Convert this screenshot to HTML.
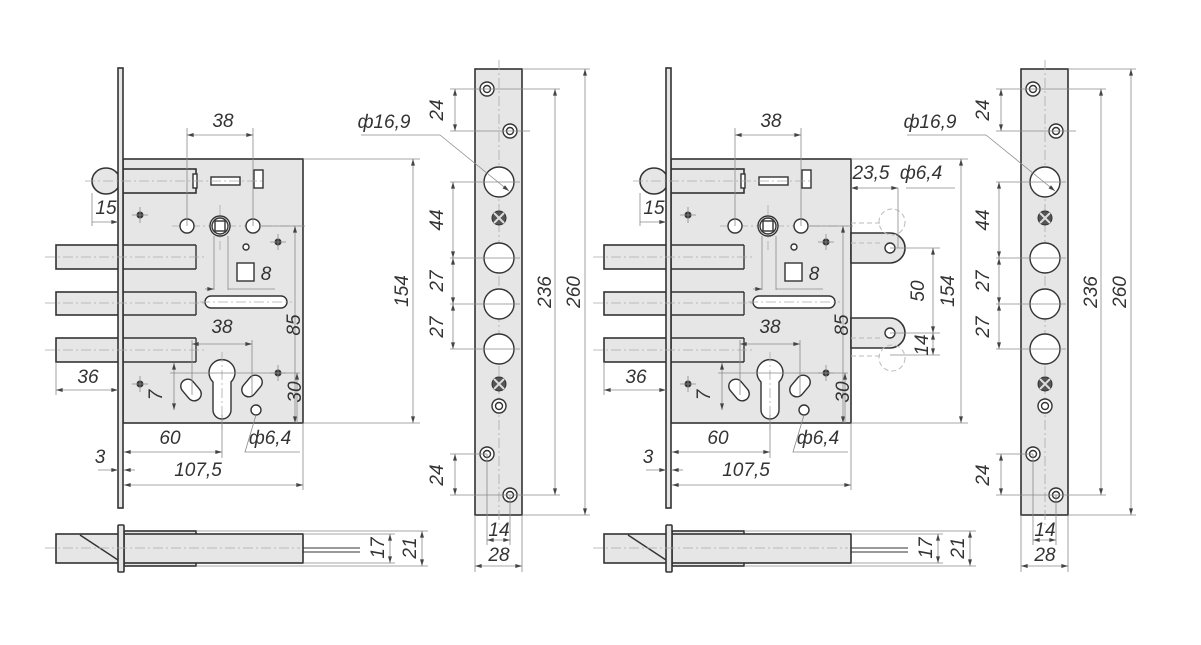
<!DOCTYPE html>
<html><head><meta charset="utf-8"><style>
html,body{margin:0;padding:0;background:#fff;}
svg{display:block}
text{font-family:"Liberation Sans",sans-serif;font-style:italic;font-size:19px;fill:#333;text-anchor:middle}
.o{fill:#e6e6e6;stroke:#333;stroke-width:1.6}
.w{fill:#fff;stroke:#333;stroke-width:1.4}
.n{fill:none;stroke:#333;stroke-width:1.4}
.d{fill:none;stroke:#8a8a8a;stroke-width:0.8}
.c{fill:none;stroke:#aaa;stroke-width:0.8;stroke-dasharray:10 3 2 3}
.h{fill:none;stroke:#bbb;stroke-width:1;stroke-dasharray:5 3}
</style></head><body>
<svg width="1201" height="645" viewBox="0 0 1201 645" xmlns="http://www.w3.org/2000/svg">
<defs>
<marker id="a" viewBox="0 0 10 6" refX="10" refY="3" markerWidth="9" markerHeight="5" orient="auto-start-reverse"><path d="M0,0 L10,3 L0,6 z" fill="#444"/></marker>
<g id="lock">
  <rect class="o" x="56" y="245" width="140" height="24"/>
  <rect class="o" x="56" y="292" width="140" height="23"/>
  <rect class="o" x="56" y="338" width="140" height="24"/>
  <rect class="o" x="123" y="159" width="180" height="264"/>
  <ellipse class="o" cx="106" cy="181" rx="14" ry="13"/>
  <rect class="o" x="123" y="169" width="73" height="24"/>
  <rect class="w" x="193" y="174" width="4" height="14"/>
  <rect class="w" x="211" y="177" width="29" height="8"/>
  <rect class="w" x="254" y="170" width="9" height="18"/>
  <rect class="o" x="118" y="68" width="5" height="440"/>
  <line class="n" x1="123" y1="245" x2="196" y2="245"/><line class="n" x1="196" y1="245" x2="196" y2="269"/><line class="n" x1="123" y1="269" x2="196" y2="269"/>
  <line class="n" x1="123" y1="292" x2="196" y2="292"/><line class="n" x1="196" y1="292" x2="196" y2="315"/><line class="n" x1="123" y1="315" x2="196" y2="315"/>
  <line class="n" x1="123" y1="338" x2="196" y2="338"/><line class="n" x1="196" y1="338" x2="196" y2="362"/><line class="n" x1="123" y1="362" x2="196" y2="362"/>
  <line class="c" x1="45" y1="257" x2="205" y2="257"/>
  <line class="c" x1="45" y1="303" x2="205" y2="303"/>
  <line class="c" x1="45" y1="350" x2="205" y2="350"/>
  <line class="c" x1="85" y1="181" x2="265" y2="181"/>
  <line class="c" x1="172" y1="226" x2="300" y2="226"/>
  <line class="c" x1="220" y1="205" x2="220" y2="250"/>
  <circle class="w" cx="187" cy="226" r="7"/>
  <circle class="w" cx="253" cy="226" r="7"/>
  <circle class="w" cx="220" cy="226" r="10"/>
  <circle class="n" cx="220" cy="226" r="8"/>
  <rect class="w" x="215" y="221" width="10" height="10"/>
  <circle class="w" cx="246" cy="247" r="3"/>
  <circle cx="140" cy="215" r="3.5" fill="#333"/>
  <circle cx="278" cy="242" r="3.5" fill="#333"/>
  <circle cx="278" cy="373" r="3.5" fill="#333"/>
  <circle cx="140" cy="384" r="3.5" fill="#333"/>
  <path class="d" d="M132 215h16M140 207v16M270 242h16M278 234v16M270 373h16M278 365v16M132 384h16M140 376v16"/>
  <rect class="w" x="237" y="263" width="17" height="18"/>
  <rect class="w" x="205" y="296" width="82" height="12" rx="6"/>
  <line class="c" x1="200" y1="302" x2="292" y2="302"/>
  <path class="w" d="M213,382 A13,13 0 1 1 231,382 L231,410 A9,9 0 0 1 213,410 Z"/>
  <line class="c" x1="222" y1="352" x2="222" y2="430"/>
  <rect class="w" x="184" y="378" width="14" height="24" rx="7" transform="rotate(-40 191 390)"/>
  <rect class="w" x="245" y="374" width="14" height="24" rx="7" transform="rotate(40 252 386)"/>
  <circle class="w" cx="256" cy="410" r="5"/>
  <path class="d" d="M187 128V226M253 128V226"/><line class="d" x1="187" y1="135" x2="253" y2="135" marker-start="url(#a)" marker-end="url(#a)"/>
  <path class="d" d="M92 193V226"/><line class="d" x1="92" y1="222" x2="118" y2="222" marker-end="url(#a)"/>
  <path class="d" d="M214 236V290M228 236V290"/><line class="d" x1="205" y1="289" x2="214" y2="289" marker-end="url(#a)"/><line class="d" x1="228" y1="289" x2="275" y2="289"/>
  <path class="d" d="M192 340V395M252 340V395"/><line class="d" x1="192" y1="344" x2="252" y2="344" marker-start="url(#a)" marker-end="url(#a)"/>
  <line class="d" x1="174" y1="363" x2="174" y2="410" marker-start="url(#a)" marker-end="url(#a)"/>
  <path class="d" d="M170 373H300M260 226H305"/>
  <line class="d" x1="295" y1="226" x2="295" y2="423" marker-start="url(#a)" marker-end="url(#a)"/>
  <line class="d" x1="297" y1="373" x2="297" y2="423" marker-start="url(#a)"/>
  <path class="d" d="M56 362V395"/><line class="d" x1="56" y1="390" x2="118" y2="390" marker-start="url(#a)" marker-end="url(#a)"/>
  <path class="d" d="M222 415V458"/><line class="d" x1="124" y1="452" x2="222" y2="452" marker-start="url(#a)" marker-end="url(#a)"/>
  <path class="d" d="M303 423V490"/><line class="d" x1="124" y1="485" x2="303" y2="485" marker-start="url(#a)" marker-end="url(#a)"/>
  <line class="d" x1="98" y1="470" x2="118" y2="470" marker-end="url(#a)"/><line class="d" x1="135" y1="470" x2="124" y2="470" marker-end="url(#a)"/>
  <path class="d" d="M256 415L245 452H300"/>
  <path class="d" d="M303 159H420M303 423H420"/>
  <line class="d" x1="413" y1="159" x2="413" y2="423" marker-start="url(#a)" marker-end="url(#a)"/>
  <rect class="o" x="56" y="534" width="64" height="29"/>
  <line class="n" x1="80" y1="535" x2="118" y2="560"/>
  <rect class="o" x="124" y="531" width="72" height="35"/>
  <rect class="o" x="124" y="534" width="179" height="29"/>
  <rect class="o" x="118" y="525" width="6" height="47" rx="1"/>
  <path class="n" d="M303 548H360M303 552H360" style="stroke-width:1"/>
  <line class="c" x1="45" y1="548" x2="300" y2="548"/>
  <path class="d" d="M303 534H395M303 563H395M196 531H428M196 566H428"/>
  <line class="d" x1="390" y1="534" x2="390" y2="563" marker-start="url(#a)" marker-end="url(#a)"/>
  <line class="d" x1="422" y1="531" x2="422" y2="566" marker-start="url(#a)" marker-end="url(#a)"/>
</g>
<g id="strip">
  <rect class="o" x="475" y="69" width="47" height="446"/>
  <line class="c" x1="499" y1="60" x2="499" y2="525"/>
  <g class="w"><circle cx="487" cy="89" r="7"/><circle cx="510" cy="131" r="7"/><circle cx="487" cy="454" r="7"/><circle cx="510" cy="495" r="7"/><circle cx="499" cy="406" r="7"/></g>
  <g class="n"><circle cx="487" cy="89" r="3.5"/><circle cx="510" cy="131" r="3.5"/><circle cx="487" cy="454" r="3.5"/><circle cx="510" cy="495" r="3.5"/><circle cx="499" cy="406" r="3.5"/></g>
  <g class="w"><circle cx="499" cy="182" r="15"/><circle cx="499" cy="258" r="15"/><circle cx="499" cy="304" r="15"/><circle cx="499" cy="349" r="15"/></g>
  <circle cx="499" cy="218" r="7" fill="#555" stroke="#333"/><path d="M494 213l10 10M504 213l-10 10" stroke="#ddd" stroke-width="2"/>
  <circle cx="499" cy="384" r="7" fill="#555" stroke="#333"/><path d="M494 379l10 10M504 379l-10 10" stroke="#ddd" stroke-width="2"/>
  <path class="d" d="M450 89H487M450 131H530M450 182H520M450 258H520M450 304H520M450 349H520M450 454H487M450 495H510"/>
  <line class="d" x1="455" y1="89" x2="455" y2="131" marker-start="url(#a)" marker-end="url(#a)"/>
  <line class="d" x1="453" y1="182" x2="453" y2="258" marker-start="url(#a)" marker-end="url(#a)"/>
  <line class="d" x1="453" y1="258" x2="453" y2="304" marker-start="url(#a)" marker-end="url(#a)"/>
  <line class="d" x1="453" y1="304" x2="453" y2="349" marker-start="url(#a)" marker-end="url(#a)"/>
  <line class="d" x1="455" y1="454" x2="455" y2="495" marker-start="url(#a)" marker-end="url(#a)"/>
  <path class="d" d="M487 89H560M510 495H560M522 69H590M522 515H590"/>
  <line class="d" x1="555" y1="89" x2="555" y2="495" marker-start="url(#a)" marker-end="url(#a)"/>
  <line class="d" x1="585" y1="69" x2="585" y2="515" marker-start="url(#a)" marker-end="url(#a)"/>
  <path class="d" d="M475 515V572M522 515V572M487 454V545M510 495V545"/>
  <line class="d" x1="487" y1="540" x2="510" y2="540" marker-start="url(#a)" marker-end="url(#a)"/>
  <line class="d" x1="475" y1="566" x2="522" y2="566" marker-start="url(#a)" marker-end="url(#a)"/>
  <line class="d" x1="361" y1="135" x2="440" y2="135"/>
  <line class="d" x1="440" y1="135" x2="509" y2="191" marker-end="url(#a)"/>
</g>
</defs>

<use href="#lock"/>
<use href="#strip"/>
<use href="#lock" transform="translate(548,0)"/>
<use href="#strip" transform="translate(546,0)"/>

<path class="o" d="M851 233H890A15,15 0 0 1 890,263H851Z"/>
<path class="o" d="M851 318H890A15,15 0 0 1 890,348H851Z"/>
<circle class="w" cx="890" cy="248" r="5"/><circle class="w" cx="890" cy="333" r="5"/>
<circle class="h" cx="892" cy="222" r="13"/><circle class="h" cx="892" cy="358" r="13"/>
<path class="h" d="M851 223H880M851 243H880M851 338H880M851 356H880"/>
<path class="d" d="M898 188V248M906 188H955M890 248H940M890 333H940M890 355H940"/>
<line class="d" x1="851" y1="188" x2="898" y2="188" marker-start="url(#a)" marker-end="url(#a)"/>
<line class="d" x1="933" y1="248" x2="933" y2="333" marker-start="url(#a)" marker-end="url(#a)"/>
<line class="d" x1="933" y1="333" x2="933" y2="355" marker-start="url(#a)" marker-end="url(#a)"/>

<g>
<text x="223" y="127">38</text>
<text x="106" y="214">15</text>
<text x="266" y="280">8</text>
<text x="222" y="333">38</text>
<text transform="translate(300,325) rotate(-90)">85</text>
<text x="88" y="383">36</text>
<text transform="translate(162,395) rotate(-90)">7</text>
<text transform="translate(301,392) rotate(-90)">30</text>
<text x="170" y="444">60</text>
<text x="270" y="444">ф6,4</text>
<text x="100" y="463">3</text>
<text x="198" y="476">107,5</text>
<text transform="translate(408,291) rotate(-90)">154</text>
<text x="384" y="128">ф16,9</text>
<text transform="translate(443,110) rotate(-90)">24</text>
<text transform="translate(443,220) rotate(-90)">44</text>
<text transform="translate(443,281) rotate(-90)">27</text>
<text transform="translate(443,327) rotate(-90)">27</text>
<text transform="translate(443,475) rotate(-90)">24</text>
<text transform="translate(551,292) rotate(-90)">236</text>
<text transform="translate(580,292) rotate(-90)">260</text>
<text x="499" y="536">14</text>
<text x="499" y="561">28</text>
<text transform="translate(384,548) rotate(-90)">17</text>
<text transform="translate(416,548) rotate(-90)">21</text>
</g>
<g transform="translate(548,0)">
<text x="223" y="127">38</text>
<text x="106" y="214">15</text>
<text x="266" y="280">8</text>
<text x="222" y="333">38</text>
<text transform="translate(300,325) rotate(-90)">85</text>
<text x="88" y="383">36</text>
<text transform="translate(162,395) rotate(-90)">7</text>
<text transform="translate(301,392) rotate(-90)">30</text>
<text x="170" y="444">60</text>
<text x="270" y="444">ф6,4</text>
<text x="100" y="463">3</text>
<text x="198" y="476">107,5</text>
<text transform="translate(406,291) rotate(-90)">154</text>
<text x="323" y="179">23,5</text>
<text x="373" y="179">ф6,4</text>
<text transform="translate(376,291) rotate(-90)">50</text>
<text transform="translate(380,345) rotate(-90)">14</text>
<text transform="translate(384,548) rotate(-90)">17</text>
<text transform="translate(416,548) rotate(-90)">21</text>
</g>
<g transform="translate(546,0)">
<text x="384" y="128">ф16,9</text>
<text transform="translate(443,110) rotate(-90)">24</text>
<text transform="translate(443,220) rotate(-90)">44</text>
<text transform="translate(443,281) rotate(-90)">27</text>
<text transform="translate(443,327) rotate(-90)">27</text>
<text transform="translate(443,475) rotate(-90)">24</text>
<text transform="translate(551,292) rotate(-90)">236</text>
<text transform="translate(580,292) rotate(-90)">260</text>
<text x="499" y="536">14</text>
<text x="499" y="561">28</text>
</g>
</svg>
</body></html>
